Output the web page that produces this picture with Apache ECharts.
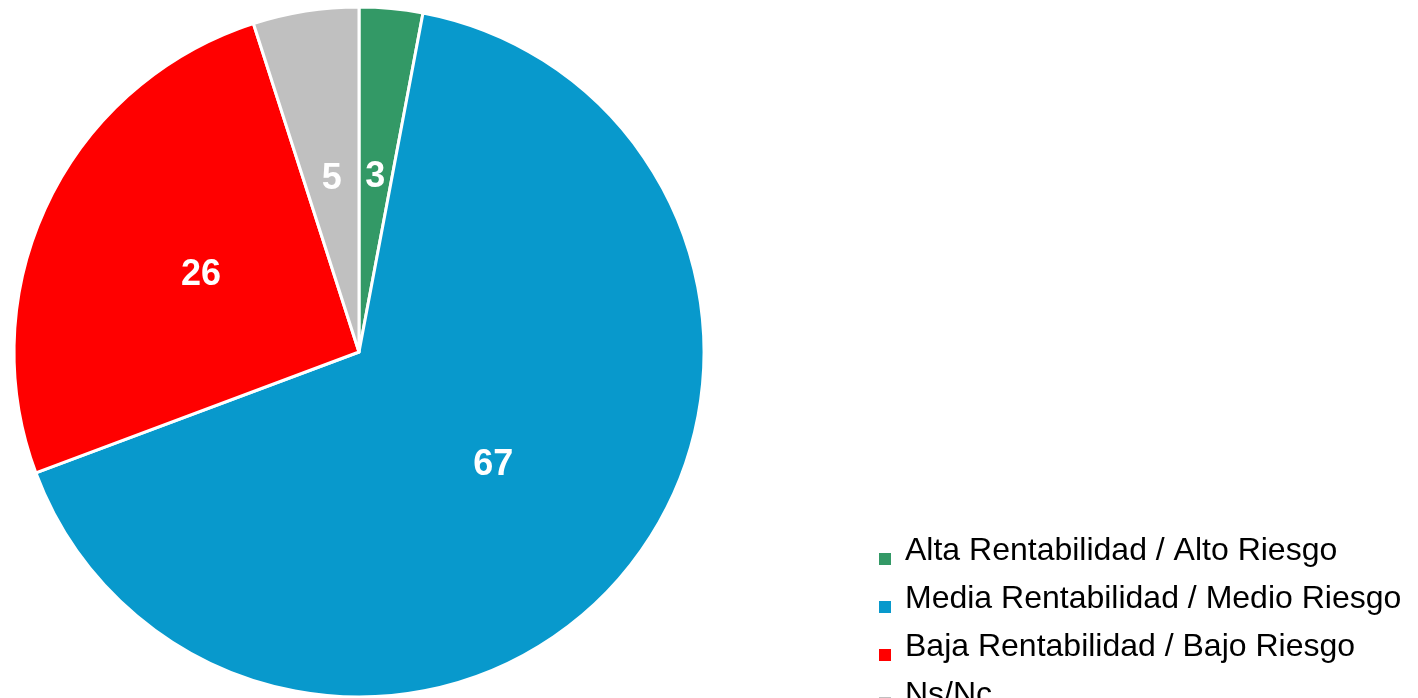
<!DOCTYPE html>
<html>
<head>
<meta charset="utf-8">
<script src="https://cdn.jsdelivr.net/npm/echarts@6/dist/echarts.min.js"></script>
<style>
html,body{margin:0;padding:0;background:#fff;}
#chart{width:1418px;height:698px;}
</style>
</head>
<body>
<div id="chart"></div>
<script>
const categories = ["Alta Rentabilidad / Alto Riesgo", "Media Rentabilidad / Medio Riesgo", "Baja Rentabilidad / Bajo Riesgo", "Ns/Nc"];
const values = [3, 67, 26, 5];
const colors = ["#339966", "#0899CC", "#FF0000", "#C0C0C0"];

const chart = echarts.init(document.getElementById('chart'), null, {renderer: 'canvas'});
chart.setOption({
  animation: false,
  backgroundColor: '#ffffff',
  color: colors,
  legend: {
    orient: 'vertical',
    left: 877,
    top: 535,
    height: 300,
    width: 540,
    padding: 0,
    icon: 'rect',
    itemWidth: 14,
    itemHeight: 14,
    itemGap: 0,
    formatter: '{t|{name}}',
    textStyle: {
      fontFamily: 'Liberation Sans, Arial, sans-serif',
      fontSize: 32,
      color: '#000000',
      rich: {
        t: {
          fontFamily: 'Liberation Sans, Arial, sans-serif',
          fontSize: 32,
          lineHeight: 32,
          color: '#000000',
          padding: [0, 0, 16, 8]
        }
      }
    },
    data: categories
  },
  series: [{
    type: 'pie',
    center: [359, 352],
    radius: [0, 345],
    startAngle: 90,
    clockwise: true,
    avoidLabelOverlap: false,
    itemStyle: {borderColor: '#ffffff', borderWidth: 3},
    label: {
      show: true,
      position: 'inside',
      formatter: '{c}',
      color: '#ffffff',
      fontFamily: 'Liberation Sans, Arial, sans-serif',
      fontWeight: 'bold',
      fontSize: 36
    },
    labelLine: {show: false},
    emphasis: {disabled: true},
    data: categories.map((c, i) => ({name: c, value: values[i]}))
  }]
});
</script>
</body>
</html>
